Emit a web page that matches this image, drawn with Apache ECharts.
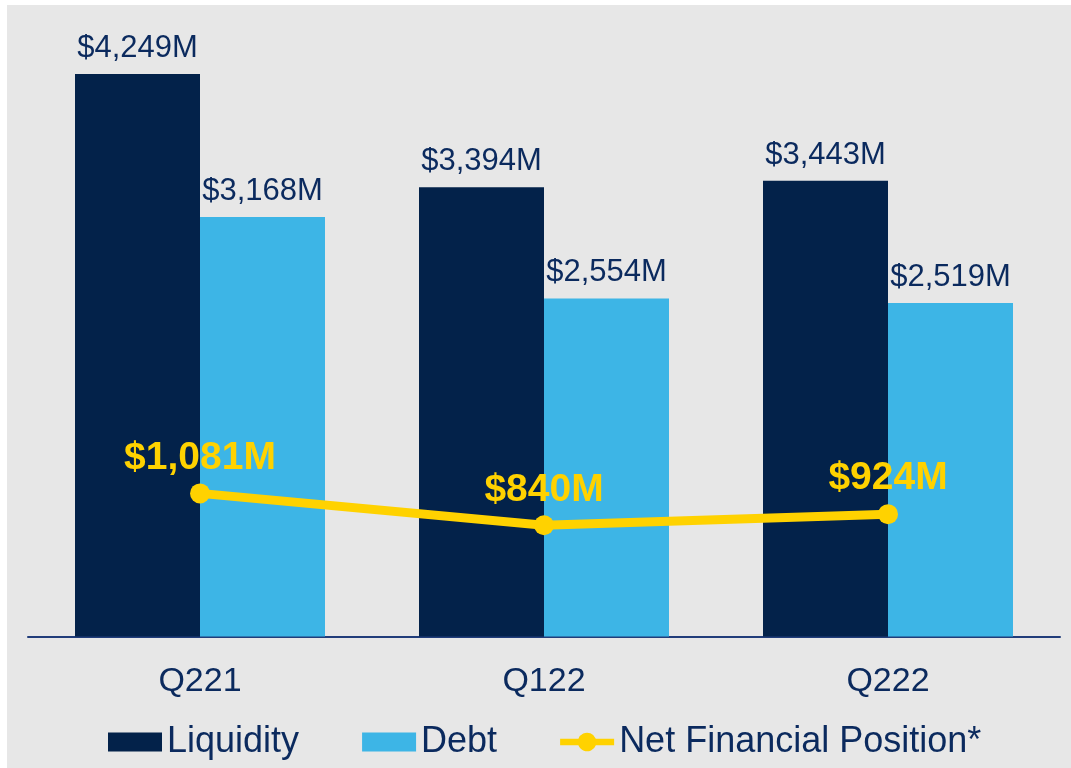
<!DOCTYPE html>
<html>
<head>
<meta charset="utf-8">
<script src="https://cdn.jsdelivr.net/npm/echarts@6/dist/echarts.min.js"></script>
<style>
  html, body { margin: 0; padding: 0; background: #ffffff; }
  #chartBar {
    position: absolute;
    left: 7px;
    top: 5px;
    width: 1064px;
    height: 763px;
  }
</style>
</head>
<body>
<div id="chartBar"></div>
<script>
// data ($M)
const quarters = ["Q221", "Q122", "Q222"];
const liquidity = [4249, 3394, 3443];
const debt = [3168, 2554, 2519];
const netPosition = [1081, 840, 924];

const navy = "#03224a";
const sky = "#3db5e6";
const yellow = "#ffd200";
const textNavy = "#0b2a5e";

// legend icon: thick line with a dot in the middle
const lineDotIcon = "path://M0,6.5 L19.63,6.5 A10,10 0 0,1 38.37,6.5 L58,6.5 L58,13.5 L38.37,13.5 A10,10 0 0,1 19.63,13.5 L0,13.5 Z";

const money = v => "$" + v.toLocaleString("en-US") + "M";

const chart = echarts.init(document.getElementById("chartBar"));
chart.setOption({
  backgroundColor: "#e7e7e7",
  animation: false,
  grid: {
    left: 21,
    right: 11,
    top: 0,
    bottom: 131.5
  },
  legend: {
    left: 96,
    top: 714,
    itemWidth: 54,
    itemHeight: 19,
    itemGap: 63,
    textStyle: {
      fontFamily: "Liberation Sans, Arial",
      fontSize: 36,
      color: textNavy
    },
    data: [
      {name: "Liquidity", icon: "rect"},
      {name: "Debt", icon: "rect"},
      {name: "Net Financial Position*", icon: lineDotIcon, itemStyle: {color: yellow}}
    ]
  },
  xAxis: {
    type: "category",
    data: quarters,
    axisTick: {show: false},
    axisLine: {lineStyle: {color: "#213d7a", width: 2}},
    axisLabel: {
      margin: 28,
      fontFamily: "Liberation Sans, Arial",
      fontSize: 34,
      color: textNavy
    }
  },
  yAxis: {
    type: "value",
    min: 0,
    max: 4770,
    show: false,
    splitLine: {show: false}
  },
  series: [
    {
      name: "Liquidity",
      type: "bar",
      data: liquidity,
      barWidth: 125,
      barGap: "0%",
      itemStyle: {color: navy},
      label: {
        show: true,
        position: "top",
        distance: 10,
        formatter: p => money(p.value),
        fontFamily: "Liberation Sans, Arial",
        fontSize: 31,
        color: textNavy
      }
    },
    {
      name: "Debt",
      type: "bar",
      data: debt,
      barWidth: 125,
      itemStyle: {color: sky},
      label: {
        show: true,
        position: "top",
        distance: 10,
        formatter: p => money(p.value),
        fontFamily: "Liberation Sans, Arial",
        fontSize: 31,
        color: textNavy
      }
    },
    {
      name: "Net Financial Position*",
      type: "line",
      data: netPosition,
      symbol: "circle",
      symbolSize: 20,
      lineStyle: {color: yellow, width: 9},
      itemStyle: {color: yellow},
      z: 5,
      label: {
        show: true,
        position: "top",
        distance: 6,
        formatter: p => money(p.value),
        fontFamily: "Liberation Sans, Arial",
        fontWeight: "bold",
        fontSize: 39,
        color: yellow
      }
    }
  ]
});
</script>
</body>
</html>
